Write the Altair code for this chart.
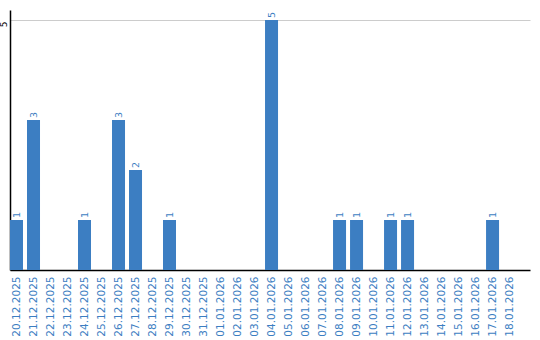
import altair as alt
import pandas as pd

dates = ["20.12.2025", "21.12.2025", "22.12.2025", "23.12.2025", "24.12.2025",
         "25.12.2025", "26.12.2025", "27.12.2025", "28.12.2025", "29.12.2025",
         "30.12.2025", "31.12.2025", "01.01.2026", "02.01.2026", "03.01.2026",
         "04.01.2026", "05.01.2026", "06.01.2026", "07.01.2026", "08.01.2026",
         "09.01.2026", "10.01.2026", "11.01.2026", "12.01.2026", "13.01.2026",
         "14.01.2026", "15.01.2026", "16.01.2026", "17.01.2026", "18.01.2026"]
counts = [1, 3, 0, 0, 1, 0, 3, 2, 0, 1, 0, 0, 0, 0, 0,
          5, 0, 0, 0, 1, 1, 0, 1, 1, 0, 0, 0, 0, 1, 0]

df = pd.DataFrame({"date": dates, "count": counts})
df["label"] = df["count"].apply(lambda v: str(v) if v > 0 else "")

blue = "#3c7ec2"
font = "DejaVu Sans"

x = alt.X("date:N", sort=dates, title=None,
          scale=alt.Scale(paddingInner=0.235, paddingOuter=0.41, align=0),
          axis=alt.Axis(labelAngle=-90, labelColor=blue, labelFont=font, labelFontSize=10.5,
                        ticks=False, domainColor="black", domainWidth=1.5, labelPadding=6,
                        labelAlign="right", labelBaseline="middle"))
y = alt.Y("count:Q", title=None,
          scale=alt.Scale(domain=[0, 5.2], nice=False),
          axis=alt.Axis(values=[5], labelAngle=-90, labelFont=font, labelFontSize=9,
                        labelColor="black", ticks=False, domainColor="black", domainWidth=1.5,
                        gridColor="#cccccc", gridWidth=1, labelPadding=2, labelOffset=4,
                        labelAlign="center", labelBaseline="bottom"))

bars = alt.Chart(df).mark_bar(color=blue).encode(x=x, y=y)
text = alt.Chart(df).mark_text(angle=270, align="left", baseline="middle", dx=2,
                                color=blue, font=font, fontSize=9.5).encode(
    x=alt.X("date:N", sort=dates), y="count:Q", text="label:N")

chart = (bars + text).properties(
    width=520, height=260,
    autosize=alt.AutoSizeParams(type="none"),
    padding={"left": 10, "top": 10, "right": 10, "bottom": 70},
).configure_view(stroke=None).configure_axis(labelOverlap=False)

chart.save("out.html", embed_options={"renderer": "svg", "actions": False})
